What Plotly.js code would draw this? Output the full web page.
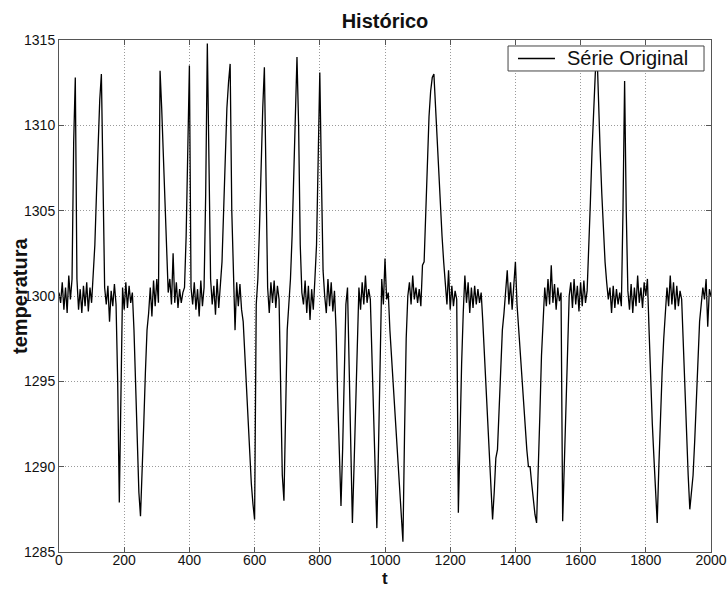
<!DOCTYPE html>
<html>
<head>
<meta charset="utf-8">
<script src="https://cdn.plot.ly/plotly-3.0.1.min.js"></script>
<style>html,body{margin:0;padding:0;background:#fff;}#chart{width:728px;height:589px;}</style>
</head>
<body>
<div id="chart"></div>
<script>
// Sample spacing of the series (t units between readings)
const tStep = 5;
// Temperature readings, one every 5 units of t, from t = 0 to t = 2000
const temperatura = [
  1300.2, 1299.6, 1300.8, 1299.2, 1300.5, 1299.0, 1301.2, 1299.8, 1301.0, 1309.0,
  1312.8, 1301.0, 1299.2, 1300.4, 1299.0, 1300.6, 1299.4, 1300.8, 1299.1, 1300.5,
  1299.6, 1301.2, 1303.0, 1306.0, 1309.0, 1311.5, 1313.0, 1306.5, 1300.5, 1299.5,
  1300.6, 1298.5, 1300.3, 1299.4, 1300.7, 1299.5, 1295.0, 1287.9, 1296.0, 1300.5,
  1299.2, 1300.8, 1299.3, 1300.6, 1299.6, 1300.2, 1298.0, 1294.5, 1291.0, 1288.5,
  1287.1, 1289.5, 1292.5, 1295.5, 1298.0, 1299.0, 1300.5, 1298.8, 1300.9, 1299.4,
  1301.0, 1299.6, 1313.2, 1311.0, 1308.5, 1305.5, 1302.5, 1300.2, 1301.0, 1299.5,
  1302.5, 1299.6, 1300.8, 1299.3, 1300.4, 1299.6, 1300.2, 1300.5, 1303.5, 1308.0,
  1313.5, 1300.5, 1299.5, 1300.8, 1299.2, 1300.4, 1298.8, 1300.9, 1299.4, 1300.5,
  1306.0, 1314.8, 1309.0, 1301.0, 1299.5, 1300.6, 1298.9, 1301.0, 1299.3, 1300.5,
  1302.0, 1305.0, 1308.0, 1311.0, 1312.5, 1313.6, 1305.0, 1300.5, 1298.0, 1300.8,
  1299.4, 1300.7, 1299.2, 1298.5, 1296.5, 1294.5, 1292.5, 1290.5, 1289.0, 1287.8,
  1286.9, 1299.5, 1301.0, 1304.0, 1308.0, 1311.0, 1313.4, 1306.0, 1300.5, 1299.0,
  1300.8, 1299.6, 1300.9, 1299.3, 1300.6, 1299.8, 1295.0, 1289.5, 1288.0, 1293.0,
  1298.0, 1299.5, 1301.0, 1303.5, 1307.0, 1310.5, 1314.0, 1310.0, 1303.0, 1300.2,
  1299.5, 1300.9, 1299.0, 1300.6, 1298.6, 1300.4, 1299.2, 1301.0, 1303.0, 1308.0,
  1313.1, 1307.0, 1301.5, 1300.0, 1299.0, 1301.0, 1299.4, 1300.8, 1299.1, 1300.3,
  1298.0, 1294.0, 1290.5, 1287.7, 1291.0, 1295.5, 1299.5, 1300.5, 1296.0, 1291.0,
  1286.7, 1290.0, 1294.0, 1298.0, 1300.5, 1299.2, 1300.8, 1299.5, 1301.2, 1299.6,
  1300.4, 1299.8, 1296.5, 1292.5, 1289.0, 1286.4, 1291.0, 1296.5, 1301.0, 1299.5,
  1302.2, 1299.8, 1300.2, 1298.0, 1296.5, 1295.0, 1293.0, 1291.5, 1290.0, 1288.5,
  1287.0, 1285.6, 1292.0, 1297.5, 1300.0, 1300.8, 1299.5, 1301.2, 1299.8, 1300.5,
  1299.6, 1300.4, 1299.4, 1301.8, 1302.0, 1305.0, 1308.0, 1310.5, 1312.0, 1312.8,
  1313.0, 1311.0, 1309.0, 1307.0, 1305.0, 1303.5, 1302.0, 1300.8, 1299.5, 1301.5,
  1299.2, 1300.6, 1299.4, 1300.3, 1299.8, 1287.3, 1292.0, 1296.0, 1299.0, 1301.2,
  1299.6, 1300.8, 1299.0, 1300.5, 1299.3, 1300.6, 1299.5, 1300.4, 1299.6, 1300.2,
  1298.5, 1296.5, 1294.0, 1292.5, 1290.5, 1288.5, 1286.9, 1288.5, 1290.5, 1291.0,
  1293.5, 1296.0, 1298.0, 1299.0, 1300.2, 1301.5, 1299.5, 1300.8, 1299.2, 1300.6,
  1302.0, 1299.5, 1298.0, 1296.5, 1295.0, 1293.5, 1292.0, 1291.0, 1290.0, 1290.0,
  1289.0, 1288.0, 1287.2, 1286.7, 1289.5, 1293.0, 1296.5, 1299.0, 1300.5, 1299.4,
  1301.0, 1299.5, 1301.8, 1299.6, 1300.7, 1299.2, 1300.5, 1299.7, 1300.2, 1286.8,
  1290.0, 1294.0, 1297.5, 1300.0, 1300.8, 1299.3, 1301.0, 1299.5, 1300.6, 1299.1,
  1300.8, 1299.4, 1300.9, 1299.6, 1300.3, 1302.5, 1305.5, 1308.5, 1311.0, 1313.0,
  1314.5, 1311.0, 1308.5, 1306.0, 1303.5, 1302.0, 1300.8, 1299.8, 1300.5, 1299.0,
  1300.6, 1299.3, 1300.4, 1299.5, 1300.2, 1299.4, 1305.0, 1312.6, 1305.0, 1300.3,
  1299.2, 1300.7, 1299.0, 1300.5, 1299.4, 1301.2, 1299.6, 1300.5, 1299.3, 1300.8,
  1300.0, 1301.0, 1298.0, 1295.0, 1292.5, 1290.5, 1288.5, 1286.7, 1290.0, 1293.0,
  1295.5, 1297.5, 1299.0, 1300.5, 1299.4, 1301.2, 1299.5, 1300.8, 1299.2, 1300.6,
  1299.4, 1300.3, 1299.8, 1297.0, 1294.0, 1291.5, 1289.5, 1287.5, 1288.5, 1289.5,
  1291.5, 1294.0, 1296.5, 1298.5, 1299.5, 1300.5, 1299.8, 1301.0, 1298.2, 1300.4,
  1300.0
];
const xTicks = [0, 200, 400, 600, 800, 1000, 1200, 1400, 1600, 1800, 2000];
const yTicks = [1285, 1290, 1295, 1300, 1305, 1310, 1315];
const seriesName = 'Série Original';
const chartTitle = 'Histórico';
const xLabel = 't';
const yLabel = 'temperatura';

const t = temperatura.map((_, i) => i * tStep);

const FONT = 'Liberation Sans, Arial, Helvetica, sans-serif';
const INK = '#111';

const trace = {
  type: 'scatter', mode: 'lines', name: seriesName,
  x: t, y: temperatura,
  line: {color: '#000', width: 1.3},
  showlegend: false
};

const axisCommon = {
  showline: true, linecolor: '#555', linewidth: 1, mirror: 'ticks',
  ticks: 'inside', ticklen: 5, tickcolor: '#555', tickwidth: 1,
  showgrid: true, gridcolor: '#9a9a9a', griddash: '1px,2px', gridwidth: 1,
  zeroline: false, automargin: false,
  tickfont: {family: FONT, size: 14, color: INK}
};

// Legend box geometry (paper fractions of the plot area)
const legBox = {x0: 0.6887, x1: 0.9893, y0: 0.9395, y1: 0.9883};
const legMidY = (legBox.y0 + legBox.y1) / 2;

const layout = {
  width: 728, height: 589,
  margin: {l: 59, r: 17, t: 40, b: 37, pad: 0},
  paper_bgcolor: '#fff', plot_bgcolor: '#fff',
  title: {text: '<b>' + chartTitle + '</b>', font: {family: FONT, size: 20, color: INK},
          x: 0.5, xref: 'paper', xanchor: 'center', y: 1 - 28/589, yref: 'container', yanchor: 'bottom'},
  xaxis: Object.assign({}, axisCommon, {
    range: [0, 2000], tickmode: 'array', tickvals: xTicks, ticktext: xTicks.map(String),
    ticklabelstandoff: -5
  }),
  yaxis: Object.assign({}, axisCommon, {
    range: [1285, 1315], tickmode: 'array', tickvals: yTicks, ticktext: yTicks.map(String)
  }),
  showlegend: false,
  shapes: [
    {type: 'rect', xref: 'paper', yref: 'paper', x0: legBox.x0, x1: legBox.x1, y0: legBox.y0, y1: legBox.y1,
     fillcolor: '#fff', line: {color: '#444', width: 1}, layer: 'above'},
    {type: 'line', xref: 'paper', yref: 'paper', x0: 0.7040, x1: 0.7607, y0: legMidY, y1: legMidY,
     line: {color: '#000', width: 1.3}, layer: 'above'}
  ],
  annotations: [
    {text: seriesName, xref: 'paper', yref: 'paper', x: 0.7760, y: legMidY, xanchor: 'left', yanchor: 'middle',
     showarrow: false, font: {family: FONT, size: 20, color: INK}},
    {text: '<b>' + yLabel + '</b>', xref: 'paper', yref: 'paper', x: -0.0598, y: 0.5, xanchor: 'center', yanchor: 'middle',
     textangle: -90, showarrow: false, font: {family: FONT, size: 20, color: INK}},
    {text: '<b>' + xLabel + '</b>', xref: 'paper', yref: 'paper', x: 0.5, y: -0.0713, xanchor: 'center', yanchor: 'bottom',
     borderpad: 0, showarrow: false, font: {family: FONT, size: 17, color: INK}}
  ]
};

Plotly.newPlot('chart', [trace], layout, {displayModeBar: false, staticPlot: true});
</script>
</body>
</html>
